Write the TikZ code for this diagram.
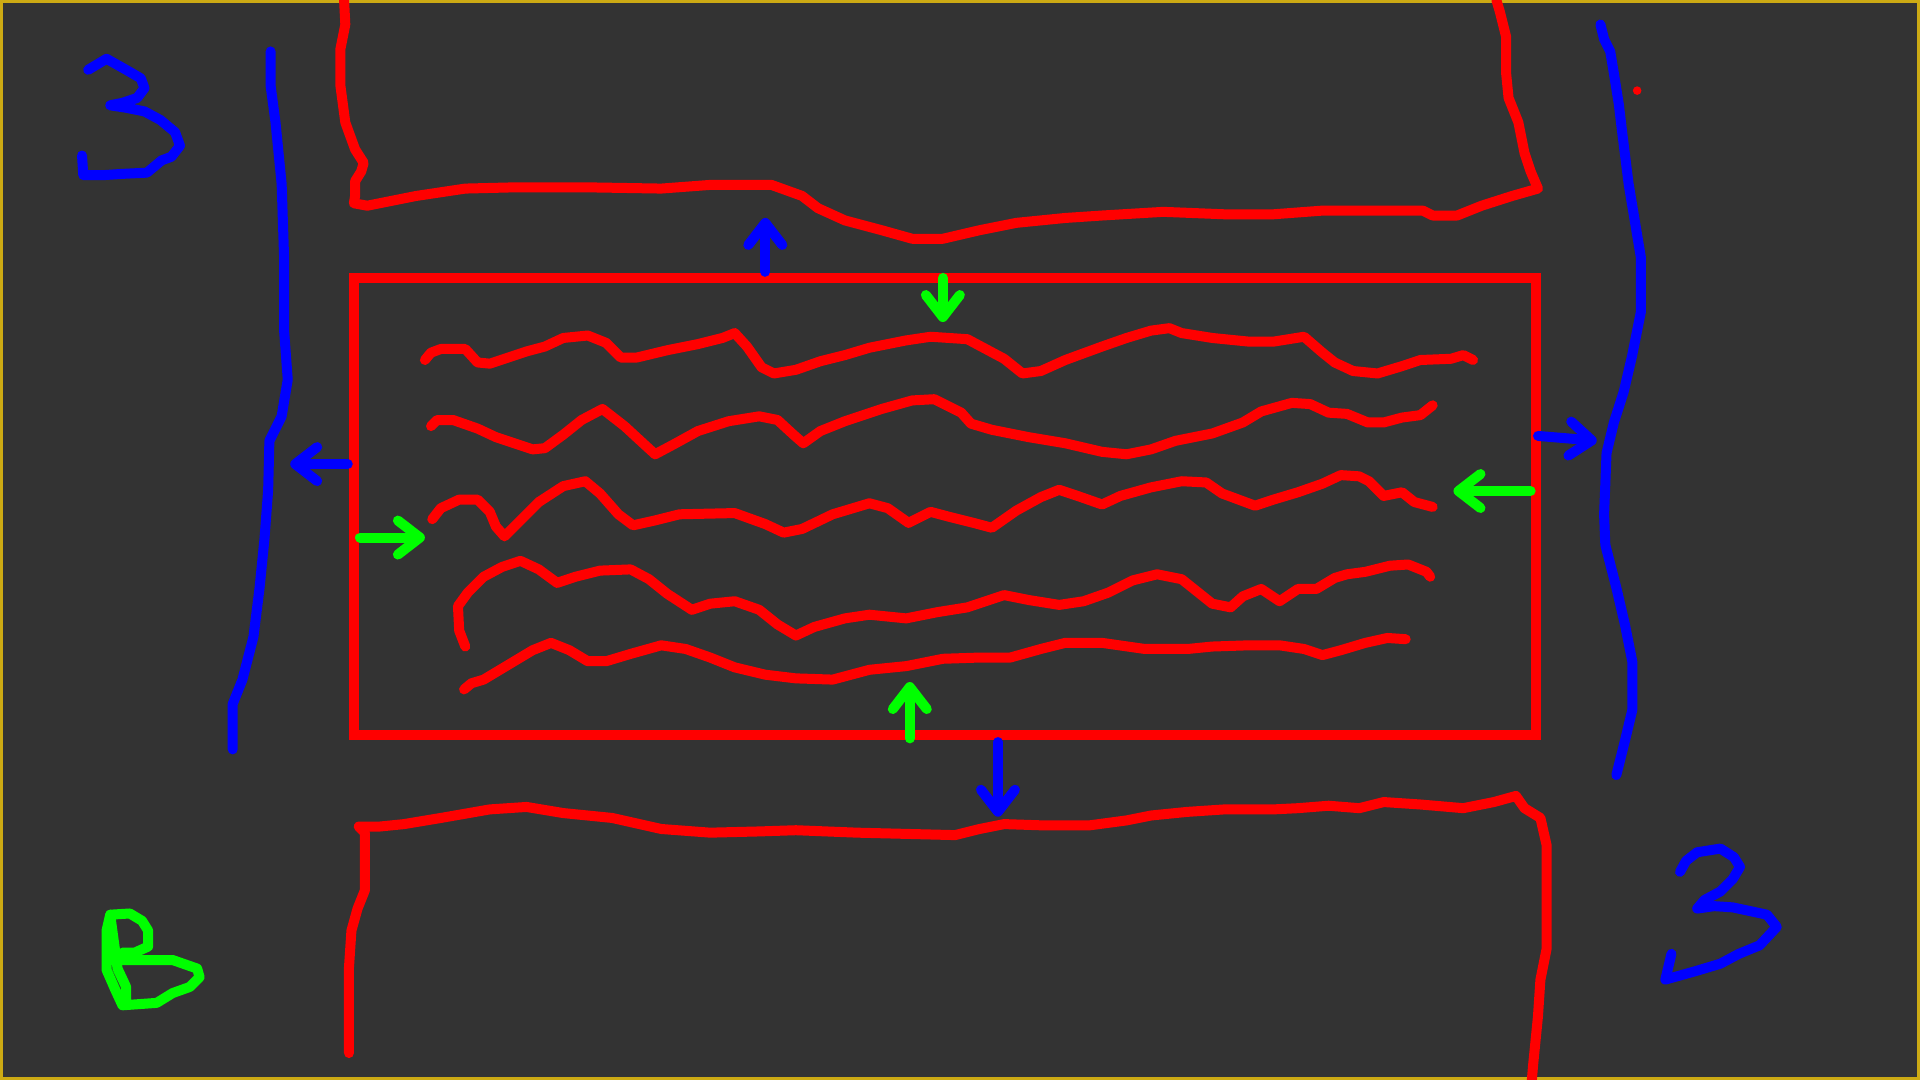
\documentclass[tikz,border=0pt]{standalone}
\usepackage{xcolor}
\usepackage{tikz}
\usetikzlibrary{arrows.meta}
\definecolor{boardgray}{RGB}{51,51,51}
\definecolor{boardedge}{RGB}{204,170,20}
\definecolor{inkred}{RGB}{255,0,0}
\definecolor{inkblue}{RGB}{0,0,255}
\definecolor{inkgreen}{RGB}{0,255,0}

\begin{document}
\begin{tikzpicture}[x=0.61224pt, y=-0.61224pt,
  inkline/.style={line width=5pt, line cap=round, line join=round},
  flow/.style={inkline, -{Straight Barb[length=11pt,width=17pt,round]}}]
% Board: dark slate with a thin gold rim; coordinates are screen pixels
% (y grows downward) so the freehand strokes can be traced point by point.
\useasboundingbox (0,0) rectangle (1568,882);
\fill[boardgray] (0,0) rectangle (1568,882);
\draw[boardedge, line width=1.4pt] (1,1) rectangle (1567,881);
% Outer blue walls, left and right
\draw[inkline, inkblue] (221,42) -- (221,70) -- (225,100) -- (230,150)
 -- (232,210) -- (232,270) -- (235,310) -- (230,340) -- (220,360)
 -- (219,400) -- (216,440) -- (212,480) -- (207,520) -- (198,555)
 -- (190,575) -- (190,612);
\draw[inkline, inkblue] (1307,20) -- (1310,32) -- (1315,42) -- (1318,60)
 -- (1322,85) -- (1325,110) -- (1330,150) -- (1335,180) -- (1340,210)
 -- (1340,255) -- (1333,290) -- (1326,320) -- (1318,345) -- (1312,370)
 -- (1310,420) -- (1311,445) -- (1320,480) -- (1327,510) -- (1333,540)
 -- (1333,580) -- (1327,605) -- (1320,633);
% Upper red bank
\draw[inkline, inkred] (281,0) -- (282,20) -- (278,40) -- (278,70)
 -- (282,100) -- (290,122) -- (297,133) -- (295,140) -- (290,148)
 -- (290,160) -- (289,166) -- (300,168) -- (320,164) -- (340,160)
 -- (380,154) -- (420,153) -- (480,153) -- (540,154) -- (580,151)
 -- (630,151) -- (655,160) -- (668,170) -- (690,180) -- (720,188)
 -- (745,195) -- (770,195) -- (800,188) -- (830,182) -- (870,178)
 -- (900,176) -- (950,173) -- (1000,175) -- (1040,175) -- (1080,172)
 -- (1130,172) -- (1162,172) -- (1170,176) -- (1190,176) -- (1210,168)
 -- (1235,160) -- (1256,154) -- (1250,140) -- (1245,125) -- (1240,100)
 -- (1232,80) -- (1230,60) -- (1230,30) -- (1225,10) -- (1222,0);
% Lower red bank
\draw[inkline, inkred] (285,860) -- (285,820) -- (285,790) -- (287,760)
 -- (292,742) -- (298,727) -- (298,680) -- (293,675) -- (310,675)
 -- (330,673) -- (360,668) -- (400,661) -- (430,659) -- (460,664)
 -- (500,668) -- (540,677) -- (580,680) -- (620,679) -- (650,678)
 -- (700,680) -- (740,681) -- (780,682) -- (800,677) -- (820,673)
 -- (850,674) -- (890,674) -- (920,670) -- (940,666) -- (970,663)
 -- (1000,661) -- (1040,661) -- (1060,660) -- (1085,658) -- (1110,660)
 -- (1130,655) -- (1160,657) -- (1195,660) -- (1220,655) -- (1238,650)
 -- (1245,660) -- (1258,668) -- (1263,690) -- (1263,740) -- (1263,775)
 -- (1258,800) -- (1256,830) -- (1254,850) -- (1252,870) -- (1251,882);
\fill[inkred] (1337,74) circle (3.5);
% Central red frame
\draw[inkline, inkred, line cap=butt, line join=miter] (289,227) rectangle (1254,600);
% Wavy strands inside the frame
\draw[inkline, inkred] (347,294) -- (352,288) -- (360,285) -- (380,285)
 -- (390,296) -- (400,297) -- (415,292) -- (430,287) -- (445,283)
 -- (460,276) -- (480,274) -- (495,280) -- (507,292) -- (520,292)
 -- (545,286) -- (570,281) -- (590,276) -- (600,272) -- (610,283)
 -- (622,300) -- (632,305) -- (650,302) -- (670,295) -- (690,290)
 -- (710,284) -- (740,278) -- (760,275) -- (790,277) -- (805,285)
 -- (820,293) -- (835,305) -- (850,303) -- (870,294) -- (900,283)
 -- (920,276) -- (940,270) -- (955,268) -- (965,272) -- (990,276)
 -- (1020,279) -- (1040,279) -- (1065,275) -- (1080,288) -- (1090,296)
 -- (1105,303) -- (1125,305) -- (1145,299) -- (1160,294) -- (1185,293)
 -- (1195,290) -- (1203,294);
\draw[inkline, inkred] (352,348) -- (357,343) -- (370,343) -- (390,350)
 -- (405,357) -- (420,362) -- (435,367) -- (445,366) -- (460,355)
 -- (475,343) -- (492,334) -- (510,348) -- (523,360) -- (535,371)
 -- (550,363) -- (570,352) -- (595,344) -- (620,340) -- (635,343)
 -- (648,355) -- (656,362) -- (670,352) -- (690,344) -- (720,334)
 -- (745,327) -- (763,326) -- (785,337) -- (793,346) -- (810,351)
 -- (840,357) -- (870,362) -- (900,369) -- (920,371) -- (940,367)
 -- (960,360) -- (990,354) -- (1015,345) -- (1030,336) -- (1055,329)
 -- (1070,330) -- (1085,337) -- (1100,338) -- (1117,345) -- (1130,345)
 -- (1145,341) -- (1160,339) -- (1170,331);
\draw[inkline, inkred] (353,424) -- (360,415) -- (375,408) -- (390,408)
 -- (400,418) -- (405,430) -- (412,438) -- (425,425) -- (440,410)
 -- (460,397) -- (478,393) -- (490,403) -- (505,420) -- (517,429)
 -- (535,425) -- (555,420) -- (600,419) -- (625,428) -- (640,435)
 -- (655,432) -- (680,420) -- (710,411) -- (725,415) -- (742,427)
 -- (760,418) -- (775,422) -- (795,427) -- (810,431) -- (830,417)
 -- (850,406) -- (865,400) -- (880,405) -- (900,412) -- (915,405)
 -- (940,398) -- (965,393) -- (985,394) -- (998,403) -- (1025,413)
 -- (1040,408) -- (1060,402) -- (1080,395) -- (1095,388) -- (1110,389)
 -- (1118,393) -- (1130,405) -- (1145,402) -- (1155,410) -- (1170,414);
\draw[inkline, inkred] (380,528) -- (375,515) -- (374,495) -- (382,484)
 -- (395,471) -- (410,463) -- (425,458) -- (440,465) -- (455,476)
 -- (470,471) -- (490,466) -- (515,465) -- (530,473) -- (545,485)
 -- (565,498) -- (580,493) -- (600,491) -- (620,498) -- (635,510)
 -- (650,519) -- (665,512) -- (690,505) -- (710,502) -- (740,505)
 -- (765,500) -- (790,496) -- (820,486) -- (840,490) -- (865,494)
 -- (885,491) -- (905,484) -- (925,474) -- (945,469) -- (965,473)
 -- (980,485) -- (990,493) -- (1005,496) -- (1015,487) -- (1030,481)
 -- (1045,491) -- (1060,481) -- (1075,481) -- (1090,472) -- (1100,469)
 -- (1115,467) -- (1135,462) -- (1150,461) -- (1165,467) -- (1168,471);
\draw[inkline, inkred] (379,563) -- (385,558) -- (395,555) -- (410,546)
 -- (425,537) -- (435,531) -- (450,525) -- (465,531) -- (480,540)
 -- (495,540) -- (515,534) -- (540,527) -- (560,530) -- (580,537)
 -- (600,545) -- (625,551) -- (650,554) -- (680,555) -- (710,547)
 -- (740,544) -- (770,538) -- (800,537) -- (825,537) -- (850,530)
 -- (870,525) -- (900,525) -- (935,530) -- (970,530) -- (990,528)
 -- (1020,527) -- (1045,527) -- (1065,530) -- (1080,535) -- (1095,531)
 -- (1115,525) -- (1133,521) -- (1148,522);
% Flow arrows: blue outward, green inward
\draw[flow, inkblue] (625,222) -- (625,178);
\draw[flow, inkgreen] (770,227) -- (770,263);
\draw[flow, inkblue] (284,379) -- (237,379);
\draw[flow, inkgreen] (294,439) -- (347,439);
\draw[flow, inkblue] (1256,356) -- (1304,360);
\draw[flow, inkgreen] (1250,401) -- (1187,401);
\draw[flow, inkgreen] (743,603) -- (743,557);
\draw[flow, inkblue] (815,606) -- (815,667);
% Handwritten marks
\draw[inkline, inkblue] (72,57) -- (87,48) -- (103,57) -- (115,64)
 -- (118,72) -- (112,80) -- (100,84) -- (90,86) -- (103,88) -- (118,91)
 -- (131,98) -- (143,108) -- (147,119) -- (140,128) -- (132,131)
 -- (120,141) -- (100,142) -- (85,143) -- (68,143) -- (67,127);
\draw[inkline, inkblue] (1372,712) -- (1377,703) -- (1386,696)
 -- (1405,693) -- (1416,700) -- (1421,708) -- (1415,718) -- (1405,728)
 -- (1392,735) -- (1386,742) -- (1400,740) -- (1415,741) -- (1443,747)
 -- (1451,757) -- (1437,772) -- (1420,779) -- (1405,787) -- (1385,793)
 -- (1360,800) -- (1365,779);
\draw[inkline, inkgreen] (90,747) -- (106,746) -- (116,752) -- (121,760)
 -- (121,773) -- (110,778) -- (100,778);
\draw[inkline, inkgreen] (100,784) -- (117,784) -- (141,784) -- (161,791)
 -- (163,798) -- (155,806) -- (141,811) -- (128,819) -- (100,821)
 -- (94,808) -- (87,792) -- (87,760) -- (90,747) -- (96,791) -- (103,806)
 -- (103,816);
\end{tikzpicture}
\end{document}
